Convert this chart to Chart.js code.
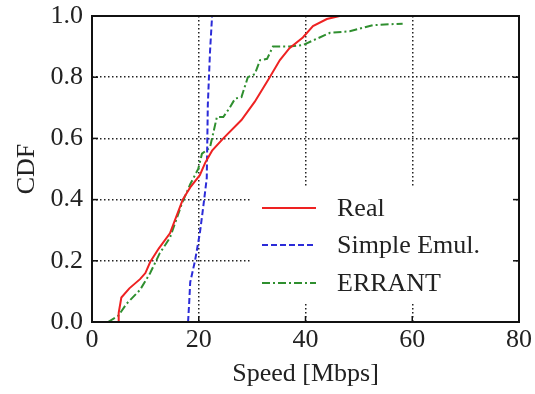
<!DOCTYPE html>
<html>
<head>
<meta charset="utf-8">
<script src="https://cdn.jsdelivr.net/npm/chart.js@4/dist/chart.umd.min.js"></script>
<style>
html,body{margin:0;padding:0;background:#fff;}
#wrap{width:535px;height:394px;position:relative;}
</style>
</head>
<body>
<div id="wrap"><canvas id="c" width="535" height="394"></canvas></div>
<script>
// ---- data ----
const realX = [5, 5, 5.5, 7, 9, 10, 10.9, 12.5, 14.6, 17, 18.4, 20.2, 21.2, 22.5, 24.6, 28, 30.5, 33.3, 35.2, 37, 39.5, 41.4, 44, 46.4];
const realY = [0, 0.03, 0.08, 0.11, 0.14, 0.16, 0.196, 0.24, 0.29, 0.40, 0.44, 0.48, 0.52, 0.56, 0.60, 0.66, 0.72, 0.80, 0.856, 0.895, 0.93, 0.967, 0.99, 1.0];
const emulX = [18.0, 18.2, 18.4, 19.3, 20.2, 20.8, 21.5, 21.7, 22.1, 22.5];
const emulY = [0, 0.06, 0.13, 0.20, 0.29, 0.37, 0.47, 0.71, 0.88, 1.0];
const errantX = [3, 4.9, 6.5, 9, 10.9, 12.7, 14.6, 16.9, 18.4, 19.9, 20.6, 22.1, 23.4, 24.6, 25.8, 26.8, 28, 29.2, 30.5, 31.5, 32.8, 33.9, 37, 39.5, 41.4, 44.6, 48.3, 51.5, 52.6, 58.2];
const errantY = [0, 0.02, 0.06, 0.105, 0.16, 0.225, 0.275, 0.39, 0.45, 0.50, 0.55, 0.57, 0.67, 0.67, 0.70, 0.73, 0.735, 0.80, 0.81, 0.856, 0.86, 0.90, 0.90, 0.905, 0.92, 0.945, 0.95, 0.965, 0.97, 0.975];
const seriesNames = ["Real", "Simple Emul.", "ERRANT"];
const xTicks = [0, 20, 40, 60, 80];
const yTicks = [0.0, 0.2, 0.4, 0.6, 0.8, 1.0];
const xTitle = "Speed [Mbps]";
const yTitle = "CDF";

const pts = (xs, ys) => xs.map((x, i) => ({x: x, y: ys[i]}));
const FONT = "'Liberation Serif', 'DejaVu Serif', serif";
const FS = 26;
const styles = [
  {color: '#ee2222', dash: []},
  {color: '#2b2bd8', dash: [6, 3]},
  {color: '#2f8f2f', dash: [8, 3, 2, 3]}
];

const frame = {
  id: 'frame',
  afterDatasetsDraw(chart) {
    const {ctx, chartArea: a, scales} = chart;
    ctx.save();
    // legend box
    const lx = 252, ly = 188, lw = 262, lh = 116;
    ctx.fillStyle = '#fff';
    ctx.fillRect(lx, ly, lw, lh);
    const rows = [208, 245, 283];
    seriesNames.forEach((name, i) => {
      ctx.strokeStyle = styles[i].color;
      ctx.lineWidth = 2;
      ctx.setLineDash(styles[i].dash);
      ctx.beginPath();
      ctx.moveTo(262, rows[i]);
      ctx.lineTo(316, rows[i]);
      ctx.stroke();
      ctx.setLineDash([]);
      ctx.fillStyle = '#222';
      ctx.font = FS + 'px ' + FONT;
      ctx.textBaseline = 'middle';
      ctx.textAlign = 'left';
      ctx.fillText(name, 337, rows[i] + 1);
    });
    // inward ticks
    ctx.strokeStyle = '#111';
    ctx.lineWidth = 1.5;
    xTicks.forEach(v => {
      const px = scales.x.getPixelForValue(v);
      ctx.beginPath(); ctx.moveTo(px, a.bottom); ctx.lineTo(px, a.bottom - 6); ctx.stroke();
    });
    yTicks.forEach(v => {
      const py = scales.y.getPixelForValue(v);
      ctx.beginPath(); ctx.moveTo(a.left, py); ctx.lineTo(a.left + 6, py); ctx.stroke();
      ctx.beginPath(); ctx.moveTo(a.right, py); ctx.lineTo(a.right - 6, py); ctx.stroke();
    });
    // frame
    ctx.lineWidth = 2;
    ctx.strokeRect(a.left, a.top, a.right - a.left, a.bottom - a.top);
    ctx.restore();
  }
};

new Chart(document.getElementById('c'), {
  type: 'line',
  data: {
    datasets: [
      {label: seriesNames[0], data: pts(realX, realY)},
      {label: seriesNames[1], data: pts(emulX, emulY)},
      {label: seriesNames[2], data: pts(errantX, errantY)}
    ].map((d, i) => Object.assign(d, {
      borderColor: styles[i].color,
      borderDash: styles[i].dash,
      borderWidth: 2,
      pointRadius: 0,
      tension: 0,
      fill: false
    }))
  },
  options: {
    responsive: false,
    animation: false,
    devicePixelRatio: 1,
    layout: {padding: {top: 16, right: 16, left: 0, bottom: 0}},
    plugins: {legend: {display: false}, tooltip: {enabled: false}},
    scales: {
      x: {
        type: 'linear', min: 0, max: 80,
        afterBuildTicks: s => { s.ticks = xTicks.map(v => ({value: v})); },
        afterFit: s => { s.height = 72; s.paddingLeft = 0; s.paddingRight = 0; },
        ticks: {color: '#222', font: {family: FONT, size: FS}, padding: 3,
                callback: v => String(v)},
        grid: {drawTicks: false, lineWidth: 1.5,
               color: c => (c.tick && (c.tick.value === 0 || c.tick.value === 80)) ? 'rgba(0,0,0,0)' : '#222'},
        border: {display: false, dash: [1.5, 2.5]},
        title: {display: true, text: xTitle, color: '#222', font: {family: FONT, size: FS}, padding: {top: 0, bottom: 4}}
      },
      y: {
        type: 'linear', min: 0, max: 1,
        afterBuildTicks: s => { s.ticks = yTicks.map(v => ({value: v})); },
        afterFit: s => { s.width = 92; s.paddingTop = 0; s.paddingBottom = 0; },
        ticks: {color: '#222', font: {family: FONT, size: FS}, padding: 9,
                callback: v => v.toFixed(1)},
        grid: {drawTicks: false, lineWidth: 1.5,
               color: c => (c.tick && (c.tick.value === 0 || c.tick.value === 1)) ? 'rgba(0,0,0,0)' : '#222'},
        border: {display: false, dash: [1.5, 2.5]},
        title: {display: true, text: yTitle, color: '#222', font: {family: FONT, size: FS}, padding: {top: 12, bottom: 0}}
      }
    }
  },
  plugins: [frame]
});
</script>
</body>
</html>
